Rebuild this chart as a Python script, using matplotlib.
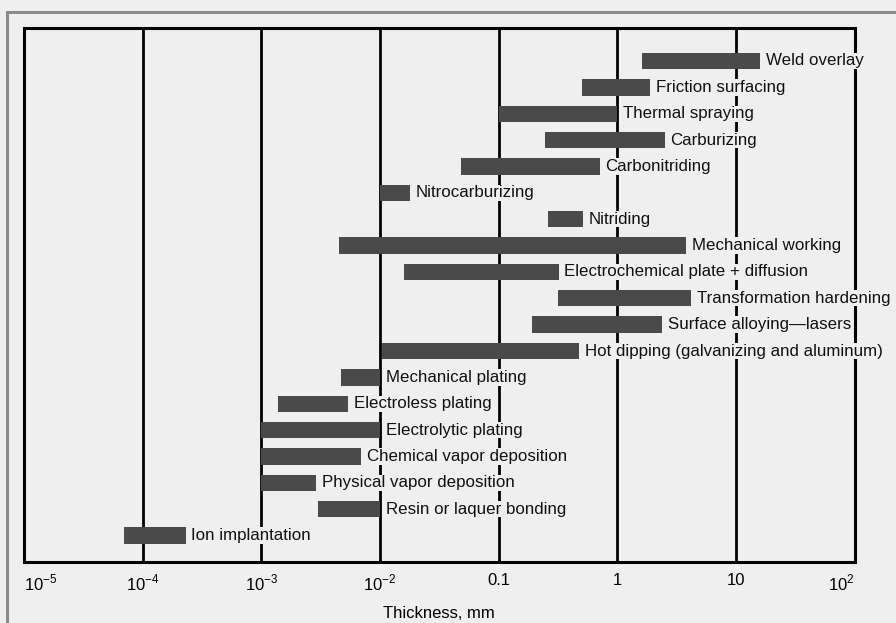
import matplotlib.pyplot as plt
from matplotlib.patches import Rectangle

# processes, top to bottom, with thickness range in mm
procesos = ['Weld overlay', 'Friction surfacing', 'Thermal spraying', 'Carburizing',
            'Carbonitriding', 'Nitrocarburizing', 'Nitriding', 'Mechanical working',
            'Electrochemical plate + diffusion', 'Transformation hardening',
            'Surface alloying\u2014lasers', 'Hot dipping (galvanizing and aluminum)',
            'Mechanical plating', 'Electroless plating', 'Electrolytic plating',
            'Chemical vapor deposition', 'Physical vapor deposition',
            'Resin or laquer bonding', 'Ion implantation']
minimo = [1.6, 0.5, 0.1, 0.245, 0.048, 0.01, 0.26, 0.0045, 0.016, 0.315,
          0.19, 0.0104, 0.0047, 0.00138, 0.001, 0.001, 0.001, 0.003, 6.9e-5]
maximo = [16, 1.9, 1.0, 2.5, 0.71, 0.018, 0.51, 3.8, 0.32, 4.2,
          2.4, 0.48, 0.01, 0.0054, 0.01, 0.0069, 0.0029, 0.01, 2.3e-4]

ticks = [1e-5, 1e-4, 1e-3, 1e-2, 0.1, 1, 10, 100]
tick_labels = ['$10^{-5}$', '$10^{-4}$', '$10^{-3}$', '$10^{-2}$', '0.1', '1', '10', '$10^{2}$']

fondo = '#efefef'
plt.rcParams['font.family'] = ['Liberation Sans', 'DejaVu Sans']
plt.rcParams['mathtext.fontset'] = 'custom'
plt.rcParams['mathtext.rm'] = 'Liberation Sans'

fig = plt.figure(figsize=(8.96, 6.23), dpi=100, facecolor=fondo)
ax = fig.add_axes([0.0268, 0.098, 0.927, 0.857])
ax.set_facecolor(fondo)

# outer frame
fig.patches.append(Rectangle((7 / 896, -0.1), 1.2, 1 - 12 / 623 + 0.1, transform=fig.transFigure,
                             fill=False, edgecolor='#8a8a8a', lw=2.2))

n = len(procesos)
y = [n - 1 - i for i in range(n)]
for yi, a, b, nombre in zip(y, minimo, maximo, procesos):
    ax.barh(yi, b - a, left=a, height=0.62, color='#4a4a4a', zorder=2)
    ax.text(b * 1.12, yi, nombre, va='center', ha='left', fontsize=12.2, color='#111111',
            zorder=4, clip_on=False,
            bbox=dict(facecolor=fondo, edgecolor='none', pad=0.5))

ax.set_xscale('log')
ax.set_xlim(1e-5, 1e2)
ax.set_ylim(-1.0, n + 0.25)
for t in ticks[1:-1]:
    ax.axvline(t, color='black', lw=2, zorder=1)
for s in ax.spines.values():
    s.set_linewidth(2.2)
    s.set_zorder(3)

ax.set_yticks([])
ax.set_xticks(ticks)
ax.set_xticklabels(tick_labels, fontsize=12)
ax.minorticks_off()
ax.tick_params(axis='x', length=0, pad=8)
etiquetas = ax.get_xticklabels()
etiquetas[0].set_horizontalalignment('left')
etiquetas[-1].set_horizontalalignment('right')
ax.set_xlabel('Thickness, mm', fontsize=12, labelpad=9)

fig.savefig('out.png', dpi=100, facecolor=fondo)
